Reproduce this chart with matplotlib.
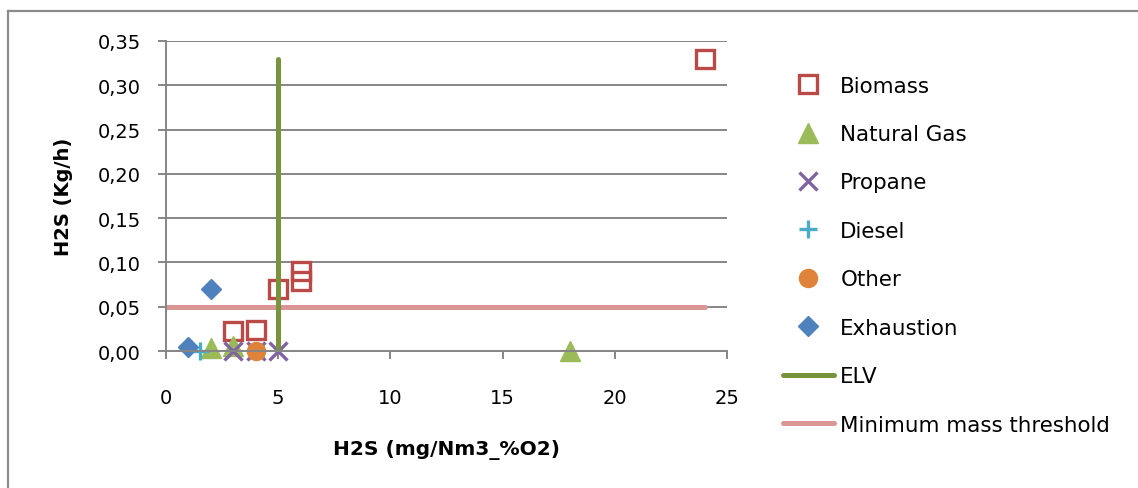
import numpy as np
import matplotlib
matplotlib.use('Agg')
import matplotlib.pyplot as plt
from matplotlib.ticker import FuncFormatter, MultipleLocator
from matplotlib.lines import Line2D

# data
biomass_x = [24, 6, 6, 5, 3, 4]
biomass_y = [0.33, 0.09, 0.079, 0.07, 0.023, 0.024]
gas_x = [2, 3, 18]
gas_y = [0.003, 0.006, 0.0]
propane_x = [3, 4, 5]
propane_y = [0.0, 0.0, 0.0]
diesel_x = [1.5]
diesel_y = [0.0]
other_x = [4]
other_y = [0.0]
exhaust_x = [1, 2]
exhaust_y = [0.005, 0.07]
elv_x = [5, 5]
elv_y = [0, 0.33]
thr_x = [0, 24]
thr_y = [0.05, 0.05]

plt.rcParams['font.family'] = 'DejaVu Sans'
fs = 14

fig = plt.figure(figsize=(11.38, 4.89), dpi=100)
W, H = 1138, 489
ax = fig.add_axes([166/W, 1-352/H, (727-166)/W, (352-42)/H])

ms = 13
ax.plot(biomass_x, biomass_y, 's', ms=ms, mfc='none', mec='#B94A48', mew=2.4, label='Biomass', clip_on=False)
ax.plot(gas_x, gas_y, '^', ms=ms+1, color='#9BBB59', label='Natural Gas', clip_on=False)
ax.plot(propane_x, propane_y, 'x', ms=ms, mew=2.4, color='#8064A2', label='Propane', clip_on=False)
ax.plot(diesel_x, diesel_y, '+', ms=ms, mew=2.4, color='#4BACC6', label='Diesel', clip_on=False)
ax.plot(other_x, other_y, 'o', ms=ms, color='#E0833A', label='Other', clip_on=False)
ax.plot(exhaust_x, exhaust_y, 'D', ms=ms-3, color='#4F81BD', label='Exhaustion', clip_on=False)
l_thr, = ax.plot(thr_x, thr_y, '-', lw=3.6, color='#D99694', solid_capstyle='round')
l_elv, = ax.plot(elv_x, elv_y, '-', lw=3.6, color='#77933C', solid_capstyle='round')
l_elv.set_label('ELV')
l_thr.set_label('Minimum mass threshold')

ax.set_xlim(0, 25)
ax.set_ylim(0, 0.35)
ax.xaxis.set_major_locator(MultipleLocator(5))
ax.yaxis.set_major_locator(MultipleLocator(0.05))
ax.yaxis.set_major_formatter(FuncFormatter(lambda v, p: ('%.2f' % v).replace('.', ',')))
ax.grid(axis='y', color='#868686', lw=1.4)
ax.set_axisbelow(True)
for s in ['top', 'right']:
	ax.spines[s].set_visible(False)
for s in ['left', 'bottom']:
	ax.spines[s].set_color('#868686')
	ax.spines[s].set_linewidth(1.4)
ax.tick_params(axis='both', colors='#868686', labelcolor='black', labelsize=fs, length=6, width=1.4)
ax.tick_params(axis='y', pad=12)
ax.tick_params(axis='x', pad=21)

ax.set_xlabel('H2S (mg/Nm3_%O2)', fontsize=14.5, fontweight='bold', labelpad=23)
ax.set_ylabel('H2S (Kg/h)', fontsize=14, fontweight='bold', labelpad=18)

h, lab = ax.get_legend_handles_labels()
order = ['Biomass', 'Natural Gas', 'Propane', 'Diesel', 'Other', 'Exhaustion', 'ELV', 'Minimum mass threshold']
hs = [h[lab.index(o)] for o in order]
fig.legend(hs, order, loc='upper left', bbox_to_anchor=(774/W, 1-68/H), frameon=False,
	fontsize=15.4, numpoints=1, handlelength=2.4, handletextpad=0.3, labelspacing=1.33, borderaxespad=0)

# outer chart border (left and top edges visible)
fig.add_artist(Line2D([8/W, 8/W], [0, 1-12/H], transform=fig.transFigure, color='#8C8C8C', lw=1.6))
fig.add_artist(Line2D([8/W, 1], [1-12/H, 1-12/H], transform=fig.transFigure, color='#8C8C8C', lw=1.6))

fig.savefig('out.png', dpi=100)
